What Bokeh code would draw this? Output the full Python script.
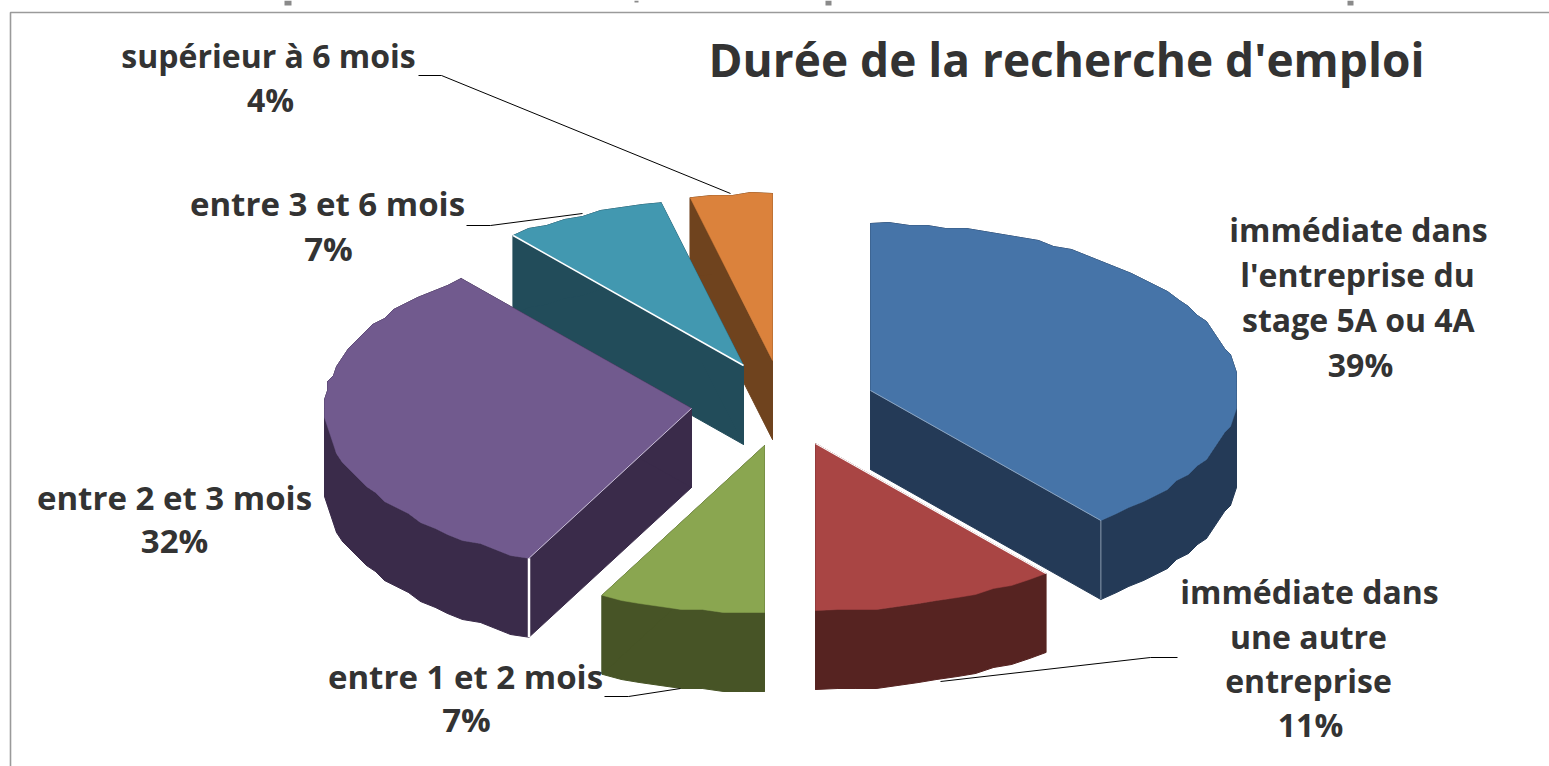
import math
from bokeh.plotting import figure
from bokeh.models import Range1d
from bokeh.core.properties import value
from bokeh.embed import file_html
from bokeh.resources import INLINE

# --- data ---
slice_names = ["immédiate dans l'entreprise du stage 5A ou 4A", "immédiate dans une autre entreprise",
               "entre 1 et 2 mois", "entre 2 et 3 mois", "entre 3 et 6 mois", "supérieur à 6 mois"]
slice_values = [39.2, 10.8, 7.3, 31.9, 7.2, 3.6]
title_text = "Durée de la recherche d'emploi"
label_lines = [
    ["immédiate dans", "l'entreprise du", "stage  5A ou 4A", "39%"],
    ["immédiate dans", "une autre", "entreprise", "11%"],
    ["entre 1 et 2 mois", "7%"],
    ["entre 2 et 3 mois", "32%"],
    ["entre 3 et 6 mois", "7%"],
    ["supérieur à 6 mois", "4%"],
]

# --- style / layout ---
top_colors = ["#4674A8", "#A94544", "#8AA650", "#715A8E", "#4298B0", "#DB823C"]
side_colors = ["#243A57", "#562321", "#475426", "#3A2B4A", "#224C5A", "#6F431E"]
apex_x = [870, 815, 764, 691, 743, 772]
apex_y = [390, 443, 445, 408, 365, 360]
draw_order = [5, 4, 3, 2, 1, 0]
RX, RY, DEPTH = 367, 167, 79
GRID = 3.0

label_x = [[1358, 1357, 1362, 1360], [1309, 1308, 1308, 1310], [465, 466], [174, 174], [327, 328], [268, 270]]
label_y = [[229, 274, 319, 364], [591, 636, 680, 724], [676, 719], [497, 540], [203, 248], [55, 99]]
label_sizes = ["32px", "32px", "33px", "33px", "33px", "32px"]
LABEL_FONT = "Open Sans"

leaders = [
    ([418, 441, 730], [75, 75, 193]),
    ([466, 490, 582], [225, 225, 213]),
    ([604, 628, 680], [696, 696, 688]),
    ([940, 1150, 1177], [681, 657, 657]),
]
# clipped bits of the line of text above the picture
fragment_left = [284, 634, 825, 1347]
fragment_right = [291, 638, 831, 1353]
fragment_bottom = [5, 2, 5, 5]

p = figure(width=1549, height=766, x_range=Range1d(0, 1549), y_range=Range1d(766, 0),
           output_backend="svg", toolbar_location=None, min_border=0,
           outline_line_color=None, background_fill_color="white", border_fill_color="white")
p.xaxis.visible = False
p.yaxis.visible = False
p.grid.visible = False

# frame of the pasted picture
p.line([10, 10, 1549], [766, 12, 12], line_color="#9A9A9A", line_width=1.6)
p.quad(left=fragment_left, right=fragment_right, top=[0] * 4, bottom=fragment_bottom,
       fill_color="#8A8A8A", line_color=None)

total = sum(slice_values)
starts = []
acc = 0
for v in slice_values:
    starts.append(acc)
    acc += v

def rim(i):
    a0 = starts[i] / total * 2 * math.pi
    a1 = (starts[i] + slice_values[i]) / total * 2 * math.pi
    n = max(3, int((a1 - a0) / math.radians(3)))
    xs, ys = [], []
    for k in range(n + 1):
        a = a0 + (a1 - a0) * k / n
        x = apex_x[i] + RX * math.sin(a)
        y = apex_y[i] - RY * math.cos(a)
        if 0 < k < n:
            x = round(x / GRID) * GRID
            y = round(y / GRID) * GRID
        xs.append(x)
        ys.append(y)
    return xs, ys

for i in draw_order:
    xs, ys = rim(i)
    ox = [apex_x[i]] + xs + [apex_x[i]]
    oy = [apex_y[i]] + ys + [apex_y[i]]
    qx, qy = [], []
    for k in range(len(ox) - 1):
        qx.append([ox[k], ox[k + 1], ox[k + 1], ox[k]])
        qy.append([oy[k], oy[k + 1], oy[k + 1] + DEPTH, oy[k] + DEPTH])
    p.patches(qx, qy, fill_color=side_colors[i], line_color=side_colors[i], line_width=1)
    p.patch(ox, oy, fill_color=top_colors[i], line_color=top_colors[i], line_width=0.5)
    # pale edges between faces
    if i == 0:
        p.line([xs[-1], xs[-1]], [ys[-1], ys[-1] + DEPTH], line_color="#8A9BB0", line_width=1)
        p.line([apex_x[i], xs[-1]], [apex_y[i], ys[-1]], line_color="#9FB4CC", line_width=0.8)
    if i == 3:
        p.line([xs[0], xs[0]], [ys[0], ys[0] + DEPTH], line_color="white", line_width=2.5)
        p.line([apex_x[i], xs[0]], [apex_y[i], ys[0]], line_color="#C9BFD6", line_width=1)
    if i == 4:
        p.line([apex_x[i], xs[0]], [apex_y[i], ys[0]], line_color="white", line_width=1.5)
    if i == 1:
        p.line([apex_x[i], xs[0]], [apex_y[i], ys[0]], line_color="white", line_width=1.2)

for lx, ly in leaders:
    p.line(lx, ly, line_color="black", line_width=1)

for lines, xs, ys, size in zip(label_lines, label_x, label_y, label_sizes):
    p.text(xs, ys, text=lines, text_align="center", text_baseline="alphabetic",
           text_font=value(LABEL_FONT), text_font_style="bold",
           text_font_size=size, text_color="#333333")

p.text([1066], [58], text=[title_text], text_align="center", text_baseline="alphabetic",
       text_font=value(LABEL_FONT), text_font_style="bold", text_font_size="46px", text_color="#333333")

open("out.html", "w").write(file_html(p, INLINE))
